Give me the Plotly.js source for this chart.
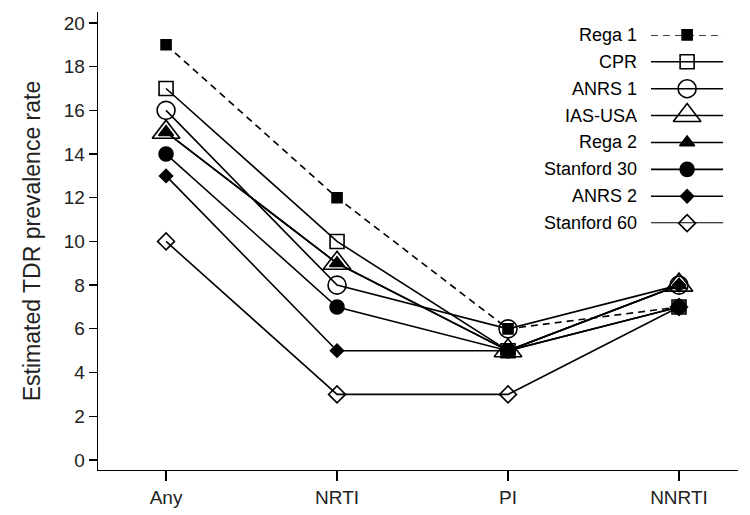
<!DOCTYPE html>
<html lang="en">
    <head>
        <meta charset="UTF-8">
        <title>Estimated TDR prevalence rate</title>
        <script src="https://cdn.plot.ly/plotly-3.0.1.min.js"></script>
        <style>
            body { margin: 0; }
            #plot { width: 750px; height: 515px; }
        </style>
    </head>
    <body>

        <div id="plot"></div>

        <script>
        // Drug classes on the x axis
        const categories = ['Any', 'NRTI', 'PI', 'NNRTI'];

        // Algorithms (legend order)
        const seriesNames = ['Rega 1', 'CPR', 'ANRS 1', 'IAS-USA', 'Rega 2', 'Stanford 30', 'ANRS 2', 'Stanford 60'];

        // Estimated TDR prevalence rate per class
        const rega1 = [19, 12, 6, 7];
        const cpr = [17, 10, 5, 7];
        const anrs1 = [16, 8, 6, 8];
        const iasUsa = [15, 9, 5, 8];
        const rega2 = [15, 9, 5, 8];
        const stanford30 = [14, 7, 5, 7];
        const anrs2 = [13, 5, 5, 8];
        const stanford60 = [10, 3, 3, 7];

        const seriesValues = [rega1, cpr, anrs1, iasUsa, rega2, stanford30, anrs2, stanford60];

        // marker look for each series
        const styles = [
            { symbol: 'square', size: 10, dash: '7px,5px' },
            { symbol: 'square-open', size: 14, dash: 'solid' },
            { symbol: 'circle-open', size: 18, dash: 'solid' },
            { symbol: 'triangle-up-open', size: 24, dash: 'solid' },
            { symbol: 'triangle-up', size: 13, dash: 'solid' },
            { symbol: 'circle', size: 14, dash: 'solid' },
            { symbol: 'diamond', size: 10, dash: 'solid' },
            { symbol: 'diamond-open', size: 13, dash: 'solid' }
        ];

        const ink = '#000';
        const font = 'Liberation Sans, Arial, sans-serif';
        const lw = 1.6;

        const traces = [];

        // main series
        seriesNames.forEach((name, i) => {
            traces.push({
                x: categories,
                y: seriesValues[i],
                type: 'scatter',
                mode: 'lines+markers',
                name: name,
                showlegend: false,
                cliponaxis: false,
                line: { color: ink, width: lw, dash: styles[i].dash },
                marker: {
                    symbol: styles[i].symbol,
                    size: styles[i].size,
                    color: ink,
                    line: { color: ink, width: lw }
                }
            });
        });

        // hand-made legend (text left of the sample) on a hidden axis pair
        seriesNames.forEach((name, i) => {
            traces.push({
                x: [0, 1],
                y: [i, i],
                xaxis: 'x2',
                yaxis: 'y2',
                type: 'scatter',
                mode: 'lines',
                showlegend: false,
                hoverinfo: 'skip',
                cliponaxis: false,
                line: { color: ink, width: lw, dash: styles[i].dash }
            });
            traces.push({
                x: [0.5],
                y: [i],
                xaxis: 'x2',
                yaxis: 'y2',
                type: 'scatter',
                mode: 'markers',
                showlegend: false,
                hoverinfo: 'skip',
                cliponaxis: false,
                marker: {
                    symbol: styles[i].symbol,
                    size: styles[i].size,
                    color: ink,
                    line: { color: ink, width: lw }
                }
            });
        });

        const legendLabels = seriesNames.map((name, i) => ({
            text: name,
            xref: 'x2',
            yref: 'y2',
            x: 0,
            y: i,
            xanchor: 'right',
            yanchor: 'middle',
            xshift: -12,
            showarrow: false,
            font: { family: font, size: 18, color: ink }
        }));

        const layout = {
            width: 750,
            height: 515,
            margin: { l: 98, r: 12, t: 12, b: 45 },
            paper_bgcolor: 'white',
            plot_bgcolor: 'white',
            showlegend: false,
            font: { family: font, size: 19, color: ink },
            xaxis: {
                type: 'category',
                range: [-0.398, 3.345],
                showline: true,
                linecolor: ink,
                linewidth: 1.3,
                ticks: 'outside',
                ticklen: 10,
                tickwidth: 1.3,
                tickcolor: ink,
                showgrid: false,
                zeroline: false,
                tickfont: { family: font, size: 19, color: '#222' }
            },
            yaxis: {
                range: [-0.46, 20.5],
                dtick: 2,
                tick0: 0,
                showline: true,
                linecolor: ink,
                linewidth: 1.3,
                ticks: 'outside',
                ticklen: 8,
                tickwidth: 1.3,
                tickcolor: ink,
                showgrid: false,
                zeroline: false,
                tickfont: { family: font, size: 19, color: '#222' },
                title: {
                    text: 'Estimated TDR prevalence rate',
                    font: { family: font, size: 23, color: '#222' },
                    standoff: 16
                }
            },
            xaxis2: {
                domain: [0.864, 0.977],
                range: [0, 1],
                anchor: 'y2',
                visible: false
            },
            yaxis2: {
                domain: [0.539, 0.950],
                range: [7, 0],
                anchor: 'x2',
                visible: false
            },
            annotations: legendLabels
        };

        Plotly.newPlot('plot', traces, layout, { displayModeBar: false, staticPlot: true });
        </script>

    </body>
</html>
